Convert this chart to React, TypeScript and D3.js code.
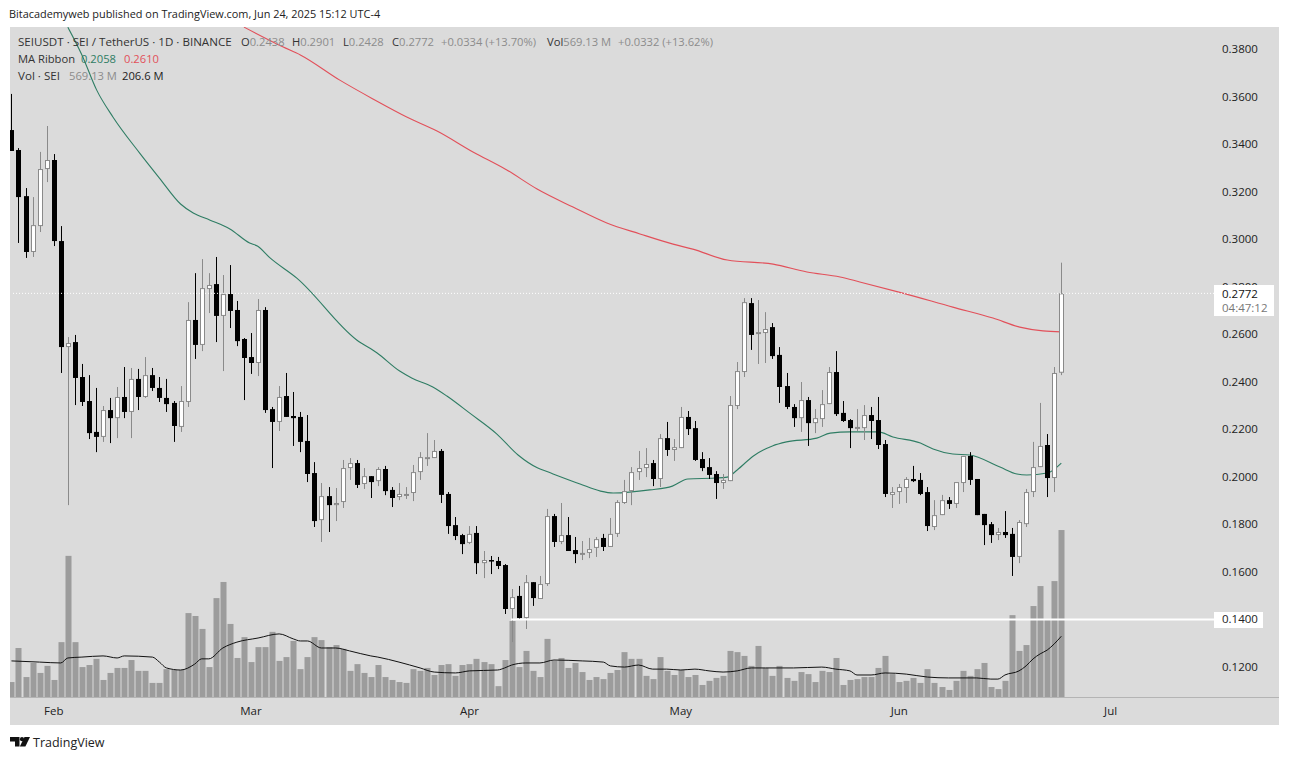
import React from "react";
import * as d3 from "d3";

const opens = [.3459,.3375,.3181,.2946,.3055,.3295,.3333,.2992,.2546,.2567,.2420,.2319,.2189,.2168,.2281,.2247,.2336,.2273,.2412,.2336,.2428,.2374,.2332,.2311,.2210,.2315,.2660,.2555,.2790,.2811,.2677,.2769,.2702,.2580,.2504,.2479,.2702,.2285,.2231,.2340,.2256,.2252,.2151,.2016,.1818,.1919,.1881,.1894,.2037,.2058,.1970,.2003,.1982,.2033,.1945,.1915,.1924,.1932,.2020,.2079,.2079,.2109,.1928,.1797,.1755,.1722,.1764,.1637,.1650,.1646,.1629,.1444,.1499,.1406,.1557,.1486,.1549,.1835,.1726,.1755,.1692,.1680,.1680,.1701,.1743,.1705,.1760,.1890,.1940,.2020,.2037,.2058,.1991,.2163,.2113,.2121,.2252,.2205,.2075,.2041,.2012,.1974,.1982,.2298,.2441,.2731,.2605,.2605,.2630,.2513,.2382,.2294,.2247,.2323,.2226,.2243,.2306,.2441,.2269,.2239,.2205,.2205,.2260,.2239,.2138,.1924,.1936,.1953,.1991,.1987,.1936,.1789,.1839,.1902,.1886,.1974,.2088,.1991,.1844,.1801,.1755,.1768,.1760,.1663,.1801,.1936,.2041,.2134,.1995,.2438];
const highs = [.3611,.3383,.3215,.3177,.3367,.3476,.3358,.3055,.2588,.2597,.2475,.2428,.2374,.2298,.2332,.2378,.2462,.2458,.2454,.2504,.2458,.2420,.2412,.2319,.2382,.2735,.2857,.2916,.2857,.2925,.2849,.2891,.2740,.2584,.2605,.2748,.2714,.2294,.2382,.2437,.2357,.2273,.2260,.2062,.1974,.1957,.1953,.2071,.2079,.2071,.2037,.2003,.2041,.2046,.1957,.1974,.1957,.2050,.2104,.2184,.2155,.2117,.1936,.1831,.1760,.1793,.1793,.1688,.1667,.1663,.1633,.1528,.1541,.1587,.1557,.1583,.1865,.1844,.1890,.1831,.1747,.1730,.1743,.1747,.1760,.1827,.1902,.1987,.2041,.2109,.2121,.2071,.2180,.2231,.2159,.2294,.2277,.2235,.2104,.2079,.2024,.2012,.2340,.2483,.2752,.2752,.2744,.2693,.2647,.2546,.2437,.2306,.2399,.2336,.2285,.2365,.2462,.2529,.2319,.2243,.2285,.2302,.2294,.2336,.2155,.1957,.1970,.1999,.2046,.2016,.1957,.1902,.1924,.1915,.1978,.2088,.2104,.1991,.1844,.1810,.1785,.1856,.1785,.1818,.1949,.2147,.2311,.2180,.2462,.2901];
const lows = [.3371,.2984,.2921,.2925,.3030,.3240,.2971,.2437,.1881,.2302,.2298,.2159,.2104,.2147,.2142,.2163,.2247,.2163,.2281,.2332,.2361,.2315,.2273,.2147,.2189,.2294,.2496,.2529,.2689,.2567,.2445,.2626,.2550,.2323,.2433,.2424,.2269,.2037,.2193,.2252,.2130,.2104,.1978,.1789,.1726,.1768,.1814,.1869,.1987,.1953,.1949,.1911,.1961,.1923,.1873,.1902,.1907,.1898,.1987,.2046,.2079,.1890,.1760,.1734,.1675,.1717,.1591,.1574,.1591,.1612,.1423,.1305,.1398,.1360,.1457,.1486,.1541,.1705,.1717,.1688,.1637,.1650,.1658,.1663,.1688,.1705,.1747,.1886,.1881,.1987,.1999,.1961,.1957,.2088,.2067,.2121,.2176,.2067,.2024,.1991,.1907,.1949,.1982,.2285,.2420,.2534,.2475,.2479,.2496,.2311,.2285,.2210,.2189,.2130,.2184,.2210,.2306,.2256,.2231,.2121,.2193,.2155,.2159,.2117,.1915,.1869,.1886,.1890,.1978,.1923,.1772,.1776,.1839,.1865,.1869,.1936,.1966,.1839,.1713,.1722,.1734,.1743,.1583,.1637,.1789,.1915,.2041,.1915,.1936,.2428];
const closes = [.3371,.3177,.2946,.3059,.3295,.3333,.2992,.2546,.2563,.2416,.2315,.2184,.2168,.2281,.2247,.2336,.2273,.2412,.2336,.2428,.2374,.2332,.2306,.2214,.2319,.2660,.2555,.2794,.2807,.2677,.2769,.2698,.2571,.2500,.2479,.2702,.2281,.2231,.2336,.2252,.2247,.2147,.2012,.1814,.1919,.1881,.1890,.2037,.2058,.1966,.2003,.1978,.2033,.1940,.1911,.1928,.1928,.2020,.2083,.2083,.2109,.1924,.1793,.1751,.1717,.1760,.1637,.1650,.1646,.1625,.1444,.1494,.1406,.1557,.1490,.1549,.1835,.1726,.1755,.1688,.1675,.1680,.1696,.1738,.1705,.1760,.1894,.1940,.2020,.2037,.2054,.1991,.2163,.2113,.2125,.2252,.2201,.2071,.2037,.2008,.1974,.1987,.2302,.2445,.2735,.2597,.2609,.2622,.2508,.2378,.2294,.2247,.2323,.2226,.2247,.2306,.2441,.2264,.2235,.2205,.2210,.2260,.2235,.2134,.1928,.1936,.1957,.1991,.1982,.1928,.1793,.1839,.1902,.1886,.1978,.2088,.1987,.1839,.1797,.1755,.1768,.1755,.1663,.1810,.1936,.2041,.2130,.1995,.2437,.2772];
const volumes = [51,167,68,116,82,106,58,187,481,187,102,109,130,58,82,99,99,126,89,89,48,48,95,92,92,286,276,232,102,337,392,249,133,204,119,170,170,222,123,136,191,95,136,204,194,170,177,164,89,112,82,68,109,68,58,51,48,95,89,99,75,109,112,72,109,112,130,119,112,37,126,259,102,157,89,68,198,123,133,99,116,85,58,68,61,82,92,153,130,130,72,61,136,89,75,92,68,75,41,55,65,72,157,153,140,106,174,99,72,106,65,55,85,78,51,89,85,133,41,58,61,68,68,99,140,78,51,55,65,48,95,48,34,24,55,89,72,95,116,34,27,55,279,157,177,310,378,266,395,569];

const volMaDays = [0,4,7,8,10,13,15,16,20,21,22,24,26,27,28,30,32,35,38,40,41,42,44,46,48,51,52,55,58,60,63,65,69,70,71,73,75,77,81,84,85,87,89,91,93,95,97,99,101,103,105,107,111,115,117,119,120,122,124,127,130,133,137,139,140,141,143,144,145,146,147,148,149];
const volMaValues = [123,119,116,133,136,140,133,140,136,119,99,92,112,130,130,167,187,201,215,198,191,191,167,167,157,140,136,119,99,85,82,89,92,99,109,116,116,126,123,119,106,102,109,95,95,92,95,89,85,89,99,99,99,102,95,89,75,75,82,78,68,65,65,61,61,75,89,106,130,147,160,181,207];

const greenDays = [8,10,12.1,14.4,18.2,21,24,25.8,28.2,31,33.8,34.9,36.7,40.5,49,51.9,55.1,56.8,59.8,61.8,65,68.9,71.9,74.7,76.2,80.7,83.6,85.4,90.6,93.8,96,99.8,101.6,103,105.3,108,110,114.3,116.2,119,123,125.1,129,130.8,133.6,136,140.3,142.7,144.1,147,149];
const greenValues = [.3892,.3775,.3627,.3514,.3362,.3257,.3148,.3110,.3080,.3043,.2984,.2971,.2921,.2836,.2576,.2521,.2445,.2416,.2378,.2340,.2269,.2180,.2092,.2037,.2020,.1970,.1940,.1932,.1945,.1961,.1991,.1995,.1999,.2029,.2088,.2130,.2147,.2163,.2184,.2189,.2189,.2168,.2142,.2117,.2096,.2092,.2041,.2012,.2008,.2016,.2058];
const redDays = [33,38.5,41,46.6,51.3,56.1,60.4,65.5,70.3,74.6,79.7,84.5,89.2,93.9,96.7,101.6,108.1,112.9,117.6,120.4,126.5,133.6,139.3,143.1,146.4,149];
const redValues = [.3892,.3809,.3775,.3669,.3590,.3514,.3455,.3367,.3291,.3211,.3135,.3068,.3022,.2979,.2958,.2912,.2895,.2862,.2841,.2820,.2773,.2714,.2668,.2630,.2614,.2610];

const priceTicks = [.38,.36,.34,.32,.30,.28,.26,.24,.22,.20,.18,.16,.12];
const monthLabels = ["Feb","Mar","Apr","May","Jun","Jul"];
const monthDays = [6,34,65,95,126,156];

const x = d3.scaleLinear().domain([0, 149]).range([11.45, 1061.3]);
const y = d3.scaleLinear().domain([0.12, 0.38]).range([667, 49]);
const v = d3.scaleLinear().domain([0, 569.13]).range([697, 530]);

const FONT = "'Open Sans', 'Noto Sans', sans-serif";
const GREY = "#8c8c8c";
const BORDER = "#8a8a8a";
const BG = "#dbdbdb";

function path(days: number[], vals: number[], scale: (n: number) => number) {
  const l = d3.line<number>().x((d) => x(d)).y((_, i) => scale(vals[i])).curve(d3.curveMonotoneX);
  return l(days) || "";
}

export default function App() {
  const hw = 2.5;
  return (
    <svg width={1289} height={760} style={{ position: "absolute", left: 0, top: 0, display: "block", background: "#fff" }} fontFamily={FONT}>
      <defs>
        <clipPath id="plot"><rect x={10} y={27} width={1269} height={670} /></clipPath>
      </defs>
      <text x={9} y={18} fontSize={10.9} fill="#222">Bitacademyweb published on TradingView.com, Jun 24, 2025 15:12 UTC-4</text>
      <rect x={10} y={27} width={1269} height={698} fill={BG} />

      <g clipPath="url(#plot)">
        {volumes.map((d, i) => (
          <rect key={i} x={Math.round(x(i)) - 2.5} y={v(d)} width={6} height={697 - v(d)} fill="#9c9c9c" />
        ))}
        <path d={path(volMaDays, volMaValues, v)} fill="none" stroke="#111" strokeWidth={1} />
        <path d={path(greenDays, greenValues, y)} fill="none" stroke="#2f7d64" strokeWidth={1.1} />
        <path d={path(redDays, redValues, y)} fill="none" stroke="#e2505a" strokeWidth={1.1} />

        {opens.map((o, i) => {
          const c = closes[i];
          const up = c >= o;
          const cx = Math.round(x(i)) + 0.5;
          const top = y(Math.max(o, c));
          const bot = y(Math.min(o, c));
          return (
            <g key={i}>
              <line x1={cx} x2={cx} y1={y(highs[i])} y2={y(lows[i])} stroke={up ? BORDER : "#000"} strokeWidth={1} />
              {up ? (
                <rect x={cx - hw + 0.5} y={top + 0.5} width={hw * 2 - 1} height={Math.max(bot - top - 1, 1)} fill="#fff" stroke={BORDER} strokeWidth={1} />
              ) : (
                <rect x={cx - hw} y={top} width={hw * 2} height={Math.max(bot - top, 1.5)} fill="#000" />
              )}
            </g>
          );
        })}

        <line x1={511} x2={1214} y1={y(0.14)} y2={y(0.14)} stroke="#fff" strokeWidth={2} />
        <line x1={13} x2={1214} y1={y(0.2772)} y2={y(0.2772)} stroke="#fff" strokeWidth={1} strokeDasharray="1 2" />
      </g>

      <line x1={10} x2={1279} y1={697.5} y2={697.5} stroke="#b4b4b4" strokeWidth={1} />

      {priceTicks.map((t) => (
        <text key={t} x={1222} y={y(t) + 4} fontSize={11.5} fill="#222">{t.toFixed(4)}</text>
      ))}
      {monthLabels.map((m, i) => (
        <text key={m} x={x(monthDays[i])} y={715} fontSize={11.5} fill="#222" textAnchor="middle">{m}</text>
      ))}

      <rect x={1214} y={612} width={49} height={16} fill="#fff" />
      <text x={1222} y={y(0.14) + 4} fontSize={11.5} fill="#222">0.1400</text>
      <rect x={1214} y={285} width={60} height={31} fill="#fff" />
      <text x={1222} y={298} fontSize={11.5} fill="#111">0.2772</text>
      <text x={1222} y={312} fontSize={11.5} fill="#777">04:47:12</text>

      <g fontSize={11.2}>
        <text x={18} y={46} fill="#333" fontSize={11.6}>SEIUSDT · SEI / TetherUS · 1D · BINANCE</text>
        <text x={241} y={46} fill="#333">O<tspan fill={GREY}>0.2438</tspan></text>
        <text x={292} y={46} fill="#333">H<tspan fill={GREY}>0.2901</tspan></text>
        <text x={343} y={46} fill="#333">L<tspan fill={GREY}>0.2428</tspan></text>
        <text x={392} y={46} fill="#333">C<tspan fill={GREY}>0.2772</tspan></text>
        <text x={441} y={46} fill={GREY}>+0.0334 (+13.70%)</text>
        <text x={547} y={46} fill="#333">Vol<tspan fill={GREY}>569.13 M</tspan></text>
        <text x={618} y={46} fill={GREY}>+0.0332 (+13.62%)</text>
        <text x={18} y={63} fill="#333">MA Ribbon</text>
        <text x={81} y={63} fill="#2f7d64">0.2058</text>
        <text x={124} y={63} fill="#e2505a">0.2610</text>
        <text x={18} y={80} fill="#333" fontSize={11.6}>Vol · SEI</text>
        <text x={69} y={80} fill={GREY}>569.13 M</text>
        <text x={122} y={80} fill="#222">206.6 M</text>
      </g>

      <g fill="#111">
        <path d="M10 737h9.5v9.5h-4.5v-5h-5z" />
        <circle cx={22} cy={739.2} r={2.1} />
        <path d="M24.5 737h5.5l-4.6 9.5h-5.6z" />
      </g>
      <text x={33} y={746.5} fontSize={12.5} fill="#222">TradingView</text>
    </svg>
  );
}
